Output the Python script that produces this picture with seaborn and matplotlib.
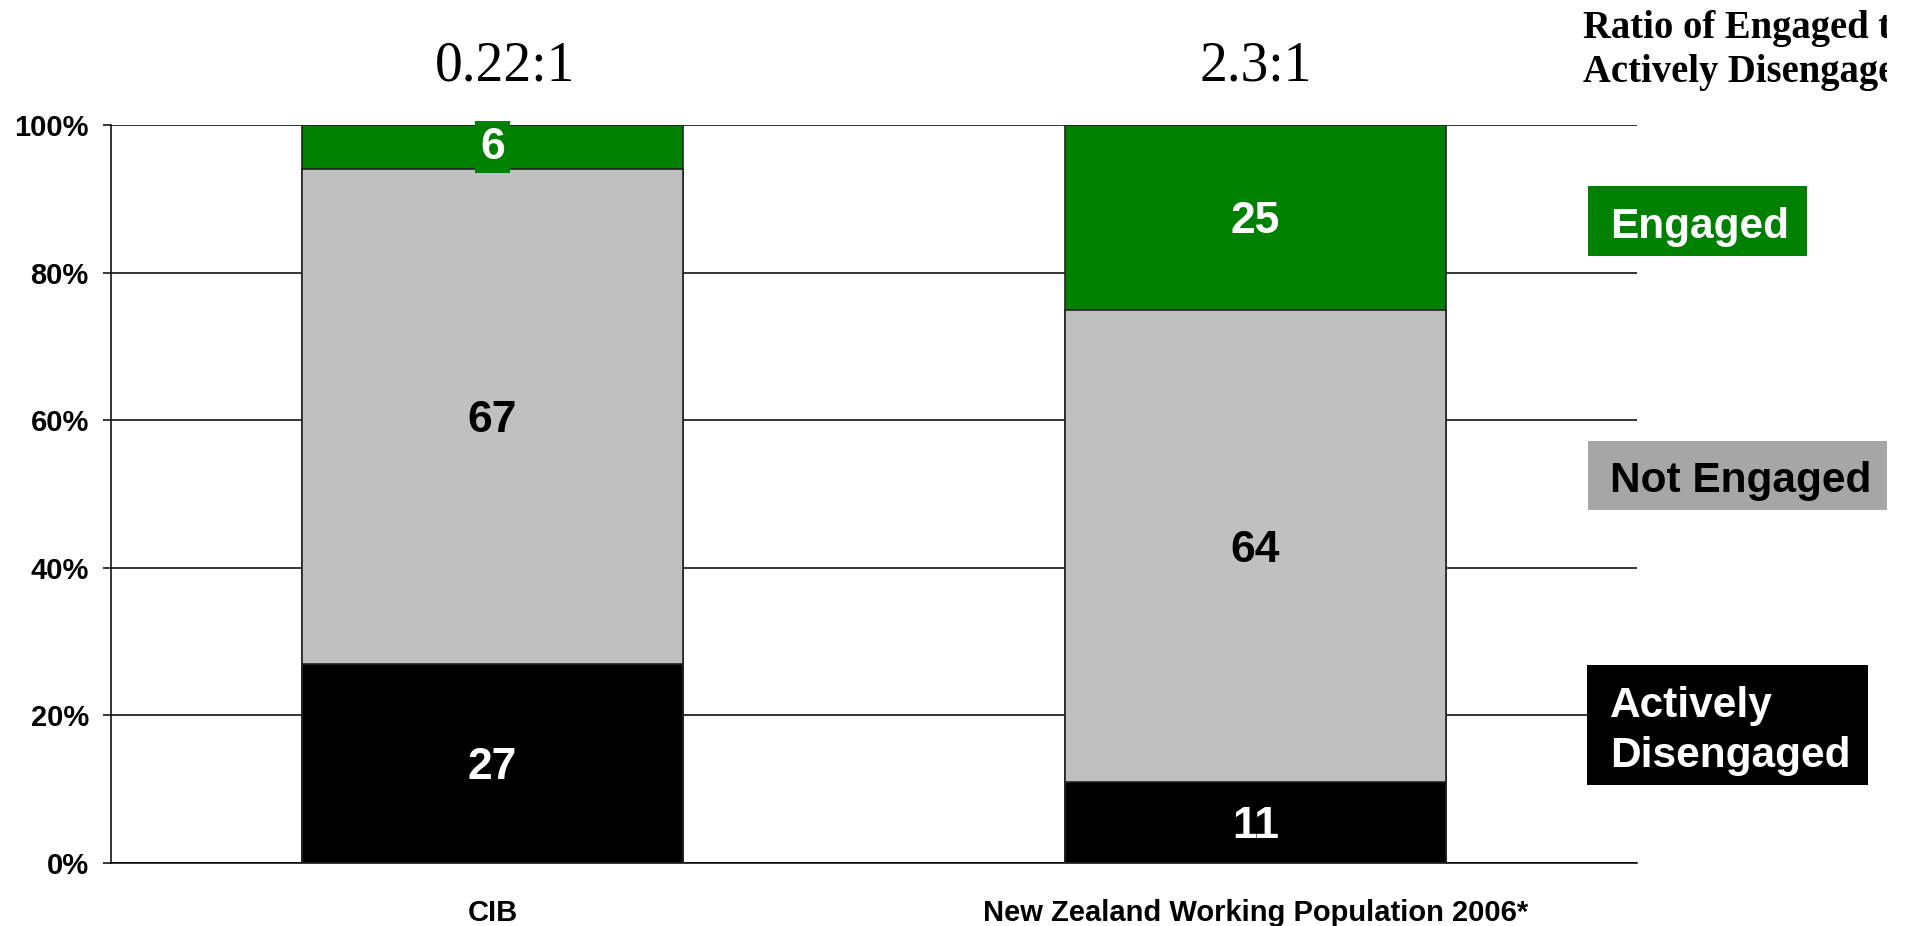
import numpy as np
import pandas as pd
import seaborn as sns
import matplotlib
matplotlib.use("Agg")
import matplotlib.pyplot as plt
from matplotlib.patches import Rectangle
from matplotlib.transforms import Bbox, TransformedBbox

# ---- data ----
groups = ["CIB", "New Zealand Working Population 2006*"]
actively_disengaged = [27, 11]
not_engaged = [67, 64]
engaged = [6, 25]
ratios = ["0.22:1", "2.3:1"]
yticks = [0, 20, 40, 60, 80, 100]
legend_labels = ["Engaged", "Not Engaged", "Actively\nDisengaged"]
title_lines = ["Ratio of Engaged to", "Actively Disengaged"]

GREEN = "#008000"
GRAY = "#C0C0C0"
BLACK = "#000000"

sns.set_theme(style="white")
plt.rcParams["font.family"] = ["Liberation Sans", "DejaVu Sans"]
for k in ["text.color", "axes.labelcolor", "xtick.color", "ytick.color", "axes.edgecolor"]:
    plt.rcParams[k] = "black"

W, H = 1914, 926
fig = plt.figure(figsize=(W / 100, H / 100), dpi=100)
ax = fig.add_axes([111 / W, 1 - 863 / H, (1637 - 111) / W, (863 - 125) / H])

df = pd.DataFrame({
    "group": groups,
    "dis": actively_disengaged,
    "not": not_engaged,
    "eng": engaged,
})
df["top_not"] = df["dis"] + df["not"]
df["top_eng"] = df["top_not"] + df["eng"]

for col, color in [("top_eng", GREEN), ("top_not", GRAY), ("dis", BLACK)]:
    sns.barplot(data=df, x="group", y=col, color=color, width=0.5,
                edgecolor="#222222", linewidth=1.2, saturation=1, ax=ax, zorder=3)

ax.set_xlim(-0.5, 1.5)
ax.set_ylim(0, 100)
ax.set_yticks(yticks)
ax.set_yticklabels([f"{t}%" for t in yticks], fontsize=21, fontweight="bold")
ax.yaxis.grid(True, color="black", linewidth=1.1)
ax.set_axisbelow(True)
ax.set_xlabel("")
ax.set_ylabel("")
for s in ["top", "right"]:
    ax.spines[s].set_visible(False)
for s in ["left", "bottom"]:
    ax.spines[s].set_color("black")
    ax.spines[s].set_linewidth(1.1)
ax.tick_params(axis="y", left=True, length=6, width=1.1, color="black", pad=10)
ax.tick_params(axis="x", bottom=False, pad=20)
ax.set_xticks(range(len(groups)))
ax.set_xticklabels(groups, fontsize=21, fontweight="bold",
                   family=["Liberation Sans Narrow", "Liberation Sans", "DejaVu Sans"])

FS = 32
CAP = 0.716 * FS / 2  # half cap height in points


def seg_label(x, y, s, color):
    ax.annotate(s, xy=(x, y), xytext=(0, -CAP), textcoords="offset points",
                ha="center", va="baseline", color=color, fontsize=FS,
                fontweight="bold", zorder=5, annotation_clip=False)


for i in range(len(groups)):
    d, n, e = actively_disengaged[i], not_engaged[i], engaged[i]
    seg_label(i, d / 2, str(d), "white")
    seg_label(i, d + n / 2, str(n), "black")
    if e < 10:
        # small segment: label keeps its own green background box
        ax.text(i, d + n + e / 2, str(e), ha="center", va="center", color="white",
                fontsize=FS, fontweight="bold", zorder=6, clip_on=False,
                bbox=dict(boxstyle="square,pad=0.12", facecolor=GREEN, edgecolor="none"))
    else:
        seg_label(i, d + n + e / 2, str(e), "white")

ratio_dx = [9, 0]
for i, r in enumerate(ratios):
    ax.annotate(r, xy=(i, 100), xycoords="data", xytext=(ratio_dx[i], 42),
                textcoords="offset points", ha="center", va="center",
                fontsize=40, family=["Liberation Serif", "DejaVu Serif"],
                annotation_clip=False)

# slide area ends before the right edge of the image
clip = TransformedBbox(Bbox([[0, 0], [1887 / W, 1]]), fig.transFigure)

for j, line in enumerate(title_lines):
    t = fig.text(1583 / W, 1 - (38 + 44 * j) / H, line, ha="left", va="baseline",
                 fontsize=27.8, fontweight="bold",
                 family=["Liberation Serif", "DejaVu Serif"])
    t.set_clip_box(clip)
    t.set_clip_on(True)

# legend boxes
boxes = [
    ((1588, 186, 1807, 256), GREEN, "white", [238]),
    ((1588, 441, 1887, 510), "#A6A6A6", "black", [492]),
    ((1587, 665, 1868, 785), BLACK, "white", [717, 767]),
]
for ((x0, y0, x1, y1), fc, tc, bases), lab in zip(boxes, legend_labels):
    fig.add_artist(Rectangle((x0 / W, 1 - y1 / H), (x1 - x0) / W, (y1 - y0) / H,
                             transform=fig.transFigure, facecolor=fc, edgecolor="none"))
    for b, part in zip(bases, lab.split("\n")):
        fig.text(1610 / W, 1 - b / H, part, ha="left", va="baseline",
                 color=tc, fontsize=30.5, fontweight="bold")

fig.savefig("out.png", dpi=100)
